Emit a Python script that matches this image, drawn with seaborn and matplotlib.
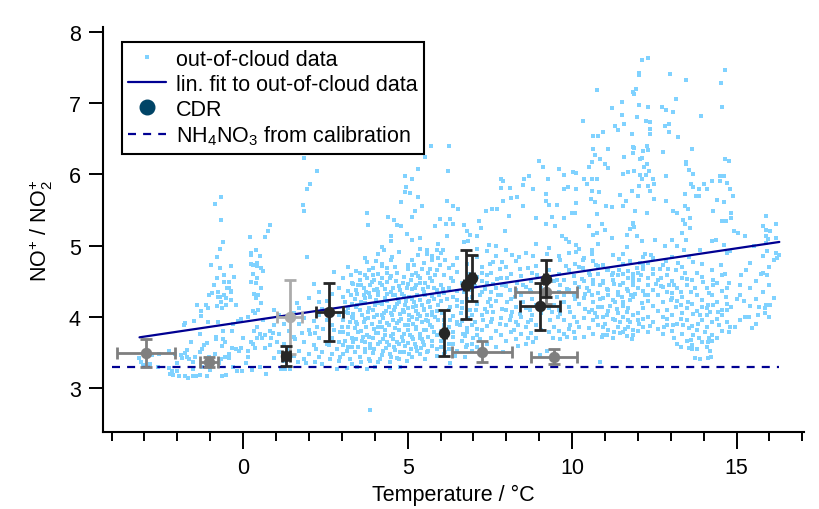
import matplotlib
matplotlib.use("Agg")
import matplotlib.pyplot as plt
from matplotlib.ticker import MultipleLocator
from matplotlib.lines import Line2D
import seaborn as sns
import pandas as pd

# ---------------- data ----------------
# out-of-cloud data, grouped by temperature range: (temperature, NO+/NO2+)
ooc_cold = [(-0.68,5.68),(-0.85,5.59),(-0.68,5.36),(0.81,5.29),(0.75,5.21),(0.21,5.12),(0.67,5.12),(0.39,4.94),(0.24,4.90),(0.24,4.86),(-0.79,4.84),(-0.97,4.73),(-0.37,4.71),(-0.70,4.68),(0.23,4.74),(0.31,4.72),(0.42,4.76),(0.42,4.71),(0.54,4.68),(0.60,4.64),(-0.58,4.59),(-0.28,4.56),(0.42,4.55),(-0.58,4.49),(-0.43,4.49),(0.24,4.49),(0.38,4.47),(-0.44,4.40),(-0.36,4.36),(-0.38,4.34),(-0.77,4.34),(-0.58,4.30),(-0.76,4.28),(-1.05,4.31),(-0.95,4.33),(0.32,4.32),(0.46,4.31),(0.38,4.26),(0.54,4.19),(-0.38,4.24),(-0.53,4.26),(-0.71,4.28),(-0.68,4.21),(-1.41,4.17),(-1.12,4.17),(-1.07,4.12),(-0.79,4.15),(-0.64,4.12),(-0.52,4.17),(-0.22,4.17),(-1.28,4.08),(-1.27,4.01),(0.30,4.08),(0.36,4.05),(-0.08,3.97),(-0.17,3.94),(-1.76,3.91),(-1.79,3.88),(-1.48,3.94),(-1.07,3.93),(-0.76,3.93),(0.43,3.86),(0.34,3.80),(0.52,3.75),(0.67,3.74),(0.81,3.80),(0.92,3.77),(1.04,3.65),(0.84,3.70),(0.57,3.70),(0.41,3.70),(0.23,3.65),(0.31,3.62),(0.36,3.56),(0.67,3.56),(0.82,3.60),(-0.34,3.80),(-0.62,3.80),(-0.82,3.72),(-0.82,3.68),(-0.60,3.69),(-0.55,3.64),(-0.63,3.59),(-1.10,3.63),(-1.20,3.60),(-1.25,3.55),(-1.30,3.51),(-1.70,3.53),(-1.76,3.49),(-1.88,3.46),(-1.71,3.44),(-1.66,3.40),(-1.52,3.36),(-1.45,3.43),(-2.06,3.48),(-2.26,3.52),(-2.57,3.48),(-2.77,3.46),(-3.17,3.42),(-3.12,3.36),(-3.05,3.32),(-2.82,3.33),(-2.59,3.29),(-2.26,3.28),(-2.16,3.23),(-2.21,3.20),(-2.13,3.18),(-2.01,3.23),(-1.94,3.17),(-1.76,3.16),(-1.68,3.14),(-1.52,3.16),(-1.43,3.17),(-1.30,3.18),(-1.10,3.16),(-0.65,3.16),(-0.51,3.18),(-0.19,3.23),(-0.04,3.24),(0.26,3.25),(0.71,3.20),(-0.34,3.56),(-0.22,3.55),(-0.06,3.56),(0.14,3.52),(0.16,3.44),(-0.14,3.52),(-0.42,3.48),(-0.55,3.43),(-0.44,3.42),(-0.67,3.40),(-0.73,3.35),(-1.03,3.43),(-0.85,3.48),(-1.51,3.27),(-1.25,3.30),(-1.86,3.42),(1.15,3.27),(1.27,3.27),(1.42,3.27),
            (-0.9,4.45),(-0.8,4.55),(-0.7,4.95),(-0.6,5.05),(-0.5,4.40),(0.3,4.60),(0.5,4.85),(0.55,4.40),(0.45,4.10),(0.15,4.00),(-0.3,3.90),(0.0,3.70),(0.6,3.95),(-1.3,3.75),(-1.6,3.65),(-2.0,3.35),(-1.0,3.25),(-0.3,3.30),(0.1,3.35),(0.5,3.30)]

ooc_mid = [(5.70,6.40),(6.25,6.40),(5.54,6.24),(1.85,6.23),(2.24,6.04),(5.31,6.08),(6.22,6.04),(4.92,5.98),(5.13,5.94),(2.04,5.87),(1.94,5.80),(4.95,5.82),(4.92,5.75),(5.08,5.74),(5.33,5.68),(6.21,5.63),(4.79,5.61),(5.43,5.56),(6.39,5.56),(6.54,5.51),(1.83,5.57),(1.85,5.48),(3.78,5.46),(5.21,5.48),(5.13,5.40),(5.99,5.37),(6.29,5.37),(4.40,5.40),(4.59,5.36),(3.79,5.29),(4.67,5.29),(4.80,5.27),(5.83,5.27),(6.17,5.30),(6.39,5.30),(4.98,5.16),(4.49,5.14),(6.19,5.13),(5.13,5.08),(5.38,5.10),(4.49,5.07),(5.93,5.02),(4.22,4.98),(4.29,4.93),(5.58,4.93),(5.89,4.94),(6.07,4.93),(4.52,4.84),(5.31,4.86),(5.58,4.88),(5.73,4.79),(5.91,4.82),(6.14,4.79),(1.94,4.84),(3.78,4.77),(4.04,4.78),(3.94,4.69),(4.22,4.71),(4.37,4.68),(4.69,4.62),(5.02,4.72),(5.18,4.73),(5.13,4.58),(5.43,4.67),(5.68,4.67),(5.99,4.72),(6.39,4.72),(6.49,4.63),(6.31,4.55),(3.28,4.59),(2.75,4.63),(3.56,4.52),(3.76,4.55),(3.96,4.58),(4.22,4.54),(4.47,4.55),(5.68,4.55),(5.83,4.58),(5.38,4.48),(5.53,4.47),(2.16,4.46),(3.35,4.46),(3.50,4.44),(3.66,4.40),(3.86,4.44),(4.06,4.39),(4.32,4.39),(4.57,4.40),(4.77,4.38),(4.97,4.40),(5.23,4.40),(5.48,4.39),(5.79,4.40),(6.09,4.39),(3.27,4.31),(3.45,4.32),(3.67,4.30),(3.86,4.27),(4.11,4.30),(4.37,4.32),(4.57,4.30),(4.82,4.32),(5.03,4.27),(5.28,4.30),(5.53,4.31),(5.79,4.25),(6.19,4.25),(6.49,4.23),(1.63,4.19),(2.32,4.20),(2.39,4.11),(3.10,4.20),(3.30,4.18),(3.45,4.16),(3.71,4.19),(4.01,4.16),(4.22,4.18),(4.42,4.13),(4.67,4.18),(4.92,4.16),(5.17,4.13),(5.43,4.17),(5.68,4.13),(5.93,4.17),(6.29,4.13),(3.13,4.07),(3.35,4.04),(3.61,4.02),(3.81,4.06),(4.08,4.03),(4.27,4.05),(4.52,4.02),(4.77,4.04),(5.03,4.02),(5.33,4.04),(5.58,4.02),(5.83,3.99),(3.05,3.95),(3.25,3.92),(3.45,3.90),(3.66,3.93),(3.91,3.90),(4.17,3.92),(4.42,3.88),(4.67,3.91),(4.92,3.88),(5.17,3.90),(5.43,3.92),(5.68,3.88),(5.93,3.95),(6.29,3.95),(6.49,3.92),(2.24,3.85),(2.44,3.83),(2.75,3.81),(1.78,3.77),(2.04,3.76),(2.19,3.77),(2.94,3.78),(3.20,3.76),(3.50,3.78),(3.76,3.74),(4.04,3.77),(4.32,3.74),(4.57,3.76),(4.82,3.71),(5.08,3.74),(5.38,3.76),(5.63,3.71),(1.58,3.69),(3.10,3.66),(3.35,3.64),(3.61,3.66),(3.86,3.62),(4.17,3.64),(4.42,3.60),(4.67,3.64),(4.92,3.59),(5.22,3.62),(5.48,3.64),(5.73,3.59),(6.39,3.71),(2.85,3.55),(3.15,3.52),(3.40,3.50),(3.71,3.54),(3.96,3.49),(4.24,3.52),(4.47,3.48),(4.77,3.51),(5.05,3.48),(5.28,3.52),(5.58,3.50),(2.64,3.41),(2.94,3.43),(3.25,3.40),(3.56,3.43),(3.86,3.38),(4.17,3.41),(4.45,3.37),(4.67,3.42),(4.97,3.38),(5.53,3.41),(2.19,3.37),(2.39,3.34),(2.85,3.27),(3.15,3.28),(3.45,3.30),(3.76,3.26),(4.01,3.29),(4.47,3.28),(4.77,3.29),(1.68,3.36),(1.91,3.35),(3.86,2.69),
           (3.55,4.62),(3.92,4.49),(4.15,4.47),(4.65,4.50),(4.85,4.47),(5.10,4.52),(5.33,4.57),(3.40,4.25),(3.75,4.35),(4.05,4.24),(4.30,4.26),(4.70,4.25),(4.95,4.22),(5.20,4.21),(5.65,4.22),(5.95,4.30),(3.20,4.12),(3.55,4.10),(3.95,4.10),(4.35,4.08),(4.60,4.09),(4.85,4.10),(5.25,4.08),(5.50,4.09),(5.75,4.06),(6.05,4.05),(3.35,3.98),(3.80,3.98),(4.25,3.98),(4.55,3.95),(4.80,3.97),(5.05,3.95),(5.30,3.97),(5.55,3.96),(6.10,3.88),(3.00,3.85),(3.40,3.84),(3.75,3.85),(4.10,3.85),(4.30,3.82),(4.75,3.82),(5.00,3.81),(5.25,3.83),(5.55,3.82),(5.80,3.78),(6.20,3.80),(3.30,3.70),(3.65,3.71),(3.95,3.70),(4.25,3.68),(4.55,3.69),(4.85,3.66),(5.15,3.68),(5.45,3.68),(6.00,3.66),(6.25,3.62),(3.05,3.60),(3.50,3.58),(3.85,3.56),(4.35,3.56),(4.60,3.57),(5.10,3.55),(5.40,3.56),(5.90,3.55),(6.15,3.50),(2.60,3.60),(2.40,3.50),(2.20,3.55),(6.45,3.45),(6.30,3.35)]

ooc_warm = [(10.65,6.54),(10.80,6.54),(10.65,6.36),(11.10,6.36),(11.86,6.38),(11.86,6.30),(10.70,6.27),(10.85,6.21),(10.60,6.17),(11.00,6.15),(11.59,6.25),(9.00,6.19),(9.11,6.10),(11.10,6.09),(10.52,6.11),(9.61,6.07),(9.75,5.99),(11.56,6.01),(11.71,6.03),(7.84,5.93),(7.91,5.91),(8.55,5.94),(8.70,5.98),(9.28,5.94),(10.04,6.03),(10.12,6.02),(10.37,5.94),(10.60,5.94),(10.75,5.94),(8.50,5.85),(8.82,5.79),(9.76,5.80),(9.89,5.82),(10.12,5.80),(10.45,5.86),(10.60,5.76),(10.82,5.75),(11.46,5.71),(7.84,5.81),(8.12,5.81),(8.15,5.67),(8.32,5.68),(9.21,5.72),(9.20,5.63),(9.31,5.57),(9.53,5.57),(10.12,5.60),(10.58,5.66),(10.70,5.61),(11.02,5.55),(11.20,5.54),(11.63,5.63),(11.56,5.56),(7.89,5.62),(7.73,5.51),(7.56,5.52),(7.38,5.49),(8.50,5.56),(8.91,5.38),(9.38,5.40),(9.75,5.38),(10.00,5.46),(10.08,5.46),(10.75,5.44),(8.08,5.41),(9.21,5.30),(9.48,5.27),(10.50,5.27),(10.90,5.30),(11.86,5.30),(11.76,5.23),(11.00,5.22),(7.16,5.34),(6.72,5.29),(7.22,5.25),(6.80,5.21),(6.90,5.15),(7.10,5.14),(7.96,5.20),(8.90,5.02),(9.68,5.14),(9.82,5.09),(10.65,5.15),(10.77,5.18),(11.21,5.10),(11.66,5.15),(7.48,5.01),(7.68,4.99),(6.70,5.05),(6.85,5.06),(7.12,4.95),(7.98,4.93),(8.16,4.86),(8.39,4.84),(8.80,4.85),(9.25,4.88),(10.12,5.01),(10.12,4.91),(9.91,4.90),(10.60,4.93),(10.60,4.88),(10.34,4.80),(10.73,4.73),(11.44,4.81),(11.56,4.88),(11.66,4.98),(7.51,4.74),(7.61,4.77),(7.86,4.77),(7.81,4.67),(7.26,4.62),(7.41,4.58),(7.71,4.53),(8.01,4.54),(8.42,4.67),(8.67,4.69),(8.78,4.62),(8.92,4.58),(9.64,4.79),(9.82,4.71),(10.09,4.74),(10.80,4.71),(10.34,4.68),(10.55,4.58),(11.05,4.65),(11.20,4.58),(11.44,4.65),(11.54,4.60),(11.71,4.55),(11.86,4.58),(7.05,4.43),(7.36,4.39),(7.61,4.46),(7.86,4.44),(8.12,4.37),(8.32,4.47),(8.52,4.44),(8.72,4.37),(9.53,4.51),(9.64,4.44),(9.84,4.39),(10.09,4.48),(10.29,4.53),(10.65,4.46),(10.85,4.44),(11.05,4.39),(11.26,4.46),(11.46,4.44),(11.66,4.39),(11.86,4.45),(7.20,4.30),(7.51,4.25),(7.76,4.30),(8.01,4.20),(8.27,4.27),(8.52,4.20),(8.77,4.25),(9.53,4.27),(9.74,4.30),(10.09,4.25),(10.40,4.32),(10.60,4.30),(10.85,4.25),(11.10,4.31),(11.31,4.20),(11.51,4.27),(11.76,4.23),(7.08,4.09),(7.36,4.11),(7.61,4.06),(7.86,4.11),(8.17,4.07),(8.42,4.04),(8.72,4.09),(9.38,4.07),(9.64,4.04),(9.94,4.07),(10.40,4.11),(10.60,4.09),(10.90,4.13),(11.05,4.03),(11.36,4.11),(11.66,4.06),(6.60,3.88),(6.80,3.84),(7.05,3.93),(7.30,3.95),(7.56,3.97),(7.81,3.90),(8.12,3.95),(8.37,3.88),(8.67,3.92),(8.77,4.02),(9.33,3.95),(9.58,3.99),(9.94,3.88),(10.14,3.93),(10.75,3.99),(11.00,3.90),(11.46,3.92),(11.61,3.83),(6.75,3.73),(7.10,3.83),(8.22,3.81),(9.43,3.70),(9.64,3.69),(9.84,3.71),(10.09,3.70),(10.90,3.71),(11.05,3.74),(11.26,3.78),(11.46,3.77),(11.66,3.73),(11.81,3.69),(8.37,3.59),(8.67,3.70),(8.82,3.64),(9.23,3.52),(6.78,3.57),(6.75,3.43),(7.91,3.51),(9.03,3.46),(10.84,3.36),
            (6.65,4.20),(6.70,4.35),(6.90,4.10),(6.95,4.28),(6.85,3.98),(7.00,3.70),(6.95,3.62),(7.20,3.68),(6.62,4.05),(6.68,3.75),(7.45,4.20),(7.25,4.50),(6.88,4.60),(10.95,4.50),(11.15,4.15),(11.40,4.35),(10.70,4.05),(10.95,3.85),(11.30,3.95),(11.70,3.95),(11.55,4.15),(11.25,4.62),(10.45,4.40),(11.80,4.30)]

ooc_hot = [(12.13,7.60),(12.30,7.63),(12.03,7.43),(12.04,7.40),(12.98,7.41),(13.45,7.32),(14.65,7.46),(14.53,7.28),(11.95,7.20),(11.88,7.13),(13.15,7.06),(12.03,6.98),(12.31,6.95),(12.72,6.95),(12.86,6.90),(13.06,6.88),(14.56,6.95),(13.92,6.82),(11.97,6.81),(12.24,6.75),(12.37,6.74),(12.83,6.68),(12.95,6.71),(12.95,6.60),(12.37,6.63),(12.37,6.56),(11.81,6.56),(13.22,6.53),(12.27,6.40),(11.87,6.37),(12.17,6.33),(12.30,6.34),(12.77,6.32),(13.64,6.36),(12.07,6.21),(12.12,6.23),(12.29,6.15),(12.18,6.10),(13.45,6.17),(13.45,6.14),(14.64,6.21),(14.76,6.19),(11.88,6.04),(12.07,5.99),(12.25,5.99),(12.35,6.04),(13.56,6.06),(13.69,6.01),(12.84,5.97),(12.14,5.94),(12.02,5.84),(12.30,5.84),(12.50,5.86),(12.45,5.93),(13.61,5.87),(13.69,5.82),(14.01,5.86),(14.25,5.91),(14.50,5.97),(14.62,5.97),(14.49,5.91),(14.70,5.88),(14.80,5.80),(13.86,5.80),(14.11,5.79),(11.81,5.76),(12.37,5.76),(13.43,5.73),(13.76,5.69),(13.85,5.69),(14.88,5.69),(12.00,5.69),(12.49,5.65),(12.86,5.62),(14.40,5.64),(14.62,5.61),(13.43,5.56),(13.53,5.51),(11.90,5.49),(12.27,5.45),(13.08,5.49),(13.20,5.45),(14.27,5.48),(14.82,5.46),(13.37,5.36),(13.43,5.30),(13.58,5.39),(14.55,5.35),(14.68,5.35),(14.82,5.39),(11.84,5.32),(11.88,5.26),(11.96,5.13),(15.89,5.42),(15.80,5.27),(15.89,5.22),(16.01,5.20),(15.91,5.14),(15.96,5.09),(15.89,5.04),(13.34,5.17),(13.57,5.25),(14.91,5.20),(15.03,5.18),(15.25,5.14),(12.13,5.07),(12.53,5.08),(13.04,5.08),(13.45,5.08),(14.24,5.06),(14.37,5.08),(14.63,5.01),(12.83,4.99),(13.19,5.00),(13.40,4.93),(13.89,4.93),(14.70,4.89),(14.80,4.92),(15.92,4.92),(15.54,4.99),(16.29,4.87),(16.14,4.80),(16.22,4.83),(12.22,4.88),(12.40,4.87),(12.15,4.84),(12.85,4.78),(13.22,4.76),(13.56,4.84),(13.69,4.77),(11.76,4.78),(12.07,4.76),(12.32,4.76),(14.52,4.73),(13.94,4.74),(12.93,4.67),(13.15,4.66),(13.43,4.62),(15.28,4.65),(11.96,4.69),(12.17,4.67),(12.45,4.67),(12.68,4.67),(11.86,4.60),(12.11,4.59),(12.71,4.55),(15.12,4.59),(15.74,4.60),(15.94,4.59),(14.64,4.60),(13.33,4.54),(13.48,4.53),(14.27,4.52),(14.27,4.45),(14.78,4.47),(13.99,4.49),(11.84,4.49),(12.02,4.51),(12.32,4.44),(12.54,4.46),(12.69,4.43),(12.94,4.45),(13.10,4.45),(13.74,4.41),(11.90,4.32),(12.22,4.31),(12.32,4.30),(13.03,4.33),(13.30,4.34),(13.61,4.35),(14.16,4.33),(12.12,4.19),(13.01,4.23),(13.15,4.13),(13.30,4.16),(13.53,4.21),(13.94,4.13),(14.14,4.17),(14.29,4.16),(14.67,4.27),(15.00,4.25),(15.22,4.22),(14.70,4.18),(14.82,4.13),(14.55,4.09),(14.45,4.07),(14.19,4.07),(13.67,4.04),(13.89,4.02),(14.09,4.03),(15.90,4.17),(16.02,4.17),(16.14,4.26),(15.87,4.12),(15.69,4.13),(15.85,4.05),(15.64,4.03),(15.37,3.99),(15.26,4.00),(14.48,3.88),(14.78,3.79),(14.81,3.85),(14.94,3.86),(15.46,3.84),(12.01,3.96),(12.17,3.97),(12.75,3.99),(12.90,3.97),(13.31,3.97),(11.76,3.92),(12.04,3.90),(12.37,3.87),(12.78,3.85),(13.06,3.89),(13.38,3.89),(13.84,3.90),(14.04,3.79),(14.24,3.74),(13.54,3.84),(13.69,3.74),(13.61,3.67),(13.85,3.70),(11.86,3.81),(13.10,3.70),(13.31,3.57),(13.54,3.56),(13.64,3.54),(14.12,3.64),(14.16,3.70),(14.19,3.52),(13.74,3.42),(13.89,3.40),(14.12,3.42),(14.21,3.44)]

ooc_top = [(10.75,7.18),(10.32,6.75),(11.20,6.93),(11.51,7.01),(11.53,6.83),(11.31,6.68),(11.59,6.71),(11.86,7.15),(10.95,6.60),(11.40,6.62)]

# extra points in the densely filled band, as columns: temperature -> ratios
dense_temp = [0.95, 1.1, 1.25, 1.4, 1.55, 1.7, 1.85, 2.0, 2.15, 2.3,
              2.55, 2.7, 2.9, 3.05, 3.18, 3.3, 3.42, 3.58, 3.7, 3.83, 3.97, 4.1, 4.23, 4.36, 4.5,
              4.62, 4.75, 4.88, 5.0, 5.12, 5.25, 5.38, 5.5, 5.62, 5.75, 5.88, 6.0, 6.12, 6.25, 6.38, 6.5,
              6.65, 6.8, 6.95, 7.1, 7.25, 7.4, 7.55, 7.7, 7.85, 8.0, 8.15, 8.3, 8.45, 8.6, 8.75, 8.9, 9.05, 9.3, 9.45,
              9.6, 9.75, 9.9, 10.05, 10.2, 10.35, 10.5, 10.65, 10.8, 10.95, 11.1, 11.25, 11.4, 11.55, 11.7, 11.85,
              12.0, 12.15, 12.3, 12.45, 12.6, 12.75, 12.9, 13.05, 13.2, 13.35, 13.5, 13.65, 13.8, 13.95, 14.1, 14.25, 14.4, 14.55, 14.7,
              15.1, 15.4, 15.6, 15.8, 16.0, 16.2]
dense_ratio = [[3.42, 3.88, 4.10], [3.50, 3.75, 4.02], [3.38, 3.62, 3.90], [3.55, 3.80], [3.45, 3.72, 4.05],
               [3.52, 3.90, 4.12], [3.40, 3.64, 3.98], [3.48, 3.82, 4.26], [3.60, 3.94], [3.44, 3.70, 4.02, 4.35],
               [3.62, 3.95, 4.22], [3.48, 3.70, 4.32, 3.88], [3.38, 3.64, 4.02, 4.41], [3.47, 3.79, 4.27, 4.55],
               [3.58, 3.85, 4.05, 4.36, 4.70], [3.33, 3.57, 4.00, 4.48], [3.69, 3.93, 4.14, 4.37, 4.64],
               [3.36, 3.80, 4.21, 4.44], [3.50, 3.64, 3.97, 4.26, 4.58, 4.83], [3.41, 3.72, 4.12, 4.33, 4.66],
               [3.55, 3.83, 4.00, 4.38, 4.52], [3.36, 3.61, 3.77, 4.19, 4.35, 4.60, 4.88], [3.46, 3.86, 4.03, 4.44, 4.74],
               [3.65, 3.91, 4.22, 4.49, 4.62], [3.44, 3.73, 4.05, 4.35, 4.57, 4.80], [3.53, 3.84, 4.14, 4.31, 4.70],
               [3.40, 3.61, 3.94, 4.21, 4.43, 4.91], [3.50, 3.76, 4.06, 4.29, 4.56], [3.63, 3.89, 4.12, 4.46, 4.67],
               [3.43, 3.72, 3.99, 4.25, 4.39, 4.80], [3.57, 3.86, 4.15, 4.45, 4.62], [3.47, 3.70, 4.01, 4.23, 4.54, 4.95],
               [3.60, 3.82, 4.11, 4.34, 4.76], [3.52, 3.94, 4.20, 4.42, 4.61], [3.66, 3.85, 4.03, 4.29, 4.50, 4.85],
               [3.45, 3.74, 4.08, 4.37, 4.66], [3.58, 3.80, 4.22, 4.45, 4.90], [3.48, 3.69, 3.95, 4.33, 4.58],
               [3.55, 3.86, 4.10, 4.40, 4.68], [3.62, 3.78, 4.01, 4.28, 4.50], [3.52, 3.90, 4.15, 4.36, 4.82],
               [3.66, 3.94, 4.12, 4.48], [3.60, 3.78, 4.25, 4.52, 4.74], [3.52, 3.88, 4.02, 4.38],
               [3.58, 3.74, 4.18, 4.56, 4.84], [3.82, 4.02, 4.34, 4.70], [3.62, 3.87, 4.07, 4.47, 4.92],
               [3.70, 3.92, 4.15, 4.35, 4.62], [3.58, 3.80, 4.22, 4.40, 4.85], [3.74, 3.98, 4.31, 4.55],
               [3.66, 3.88, 4.10, 4.43, 4.70], [3.79, 4.01, 4.25, 4.60], [3.68, 3.93, 4.13, 4.38, 4.78],
               [3.75, 3.99, 4.30, 4.57], [3.62, 3.85, 4.12, 4.42, 4.90], [3.77, 3.96, 4.34, 4.50],
               [3.70, 3.89, 4.17, 4.71], [3.82, 4.05, 4.40], [3.78, 4.12, 4.66, 4.97], [3.86, 4.16, 4.50],
               [3.80, 4.10, 4.35, 4.60, 4.85], [3.75, 3.96, 4.20, 4.52], [3.83, 4.14, 4.38, 4.65, 5.05],
               [3.78, 4.00, 4.30, 4.57], [3.86, 4.18, 4.42, 4.70, 4.95], [3.72, 3.98, 4.26, 4.50, 4.82],
               [3.84, 4.06, 4.36, 4.62], [3.76, 3.95, 4.20, 4.52, 4.78], [3.88, 4.13, 4.33, 4.60, 5.02],
               [3.74, 4.00, 4.26, 4.48, 4.72], [3.82, 4.08, 4.38, 4.66], [3.70, 3.97, 4.24, 4.52, 4.86],
               [3.85, 4.05, 4.30, 4.58], [3.78, 3.99, 4.20, 4.48, 4.74], [3.86, 4.12, 4.36, 4.64], [3.74, 4.02, 4.28, 4.54],
               [3.80, 4.05, 4.40, 4.62], [3.86, 4.12, 4.36, 4.72], [3.78, 4.00, 4.22, 4.55], [3.92, 4.15, 4.38, 4.60, 4.82],
               [3.83, 4.08, 4.30, 4.52], [3.76, 4.20, 4.42, 4.72], [3.88, 4.10, 4.34, 4.58], [3.80, 4.02, 4.26, 4.50, 4.84],
               [3.62, 3.90, 4.22, 4.40], [3.75, 4.05, 4.28, 4.70], [3.66, 3.95, 4.12, 4.45], [3.60, 3.87, 4.18, 4.52],
               [3.55, 3.82, 4.08, 4.30, 4.62], [3.65, 3.95, 4.24, 4.56], [3.58, 3.86, 4.12, 4.40], [3.66, 3.92, 4.30, 4.66],
               [3.70, 3.97, 4.20, 4.48], [3.80, 4.02, 4.36, 4.58], [3.92, 4.10, 4.40],
               [3.95, 4.30, 4.45], [4.15, 4.40, 4.75], [3.90, 4.25, 4.50], [4.35, 4.62, 4.85], [4.00, 4.45, 4.70], [4.90, 5.10, 5.30]]

# linear fit to out-of-cloud data (end points of the drawn line)
fit_temp = [-3.15, 16.3]
fit_ratio = [3.71, 5.05]

# NH4NO3 calibration level
calib_temp = [-4.0, 16.3]
calib_ratio = [3.30, 3.30]

# CDR points: temperature, ratio, x-error, y-error, shade
cdr_temp  = [-2.95, -1.03, 7.25, 9.45, 9.21, 1.41, 1.31, 2.62, 6.12, 6.78, 6.95, 9.20, 9.03]
cdr_ratio = [3.49, 3.37, 3.51, 3.44, 4.34, 3.99, 3.45, 4.07, 3.77, 4.45, 4.54, 4.53, 4.15]
cdr_xerr  = [0.88, 0.28, 0.91, 0.70, 0.95, 0.38, 0.12, 0.42, 0.05, 0.06, 0.06, 0.05, 0.61]
cdr_yerr  = [0.19, 0.07, 0.15, 0.10, 0.16, 0.52, 0.14, 0.41, 0.32, 0.48, 0.32, 0.26, 0.33]
cdr_shade = ["mid", "mid", "mid", "mid", "mid", "light", "dark", "dark", "dark", "dark", "dark", "dark", "dark"]

# ---------------- styling ----------------
sns.set_theme(style="ticks")
plt.rcParams["font.family"] = ["Liberation Sans", "DejaVu Sans"]
plt.rcParams["mathtext.fontset"] = "custom"
plt.rcParams["mathtext.rm"] = "Liberation Sans"
plt.rcParams["mathtext.it"] = "Liberation Sans:italic"
plt.rcParams["mathtext.bf"] = "Liberation Sans:bold"
for key in ("text.color", "axes.labelcolor", "xtick.color", "ytick.color", "axes.edgecolor"):
    plt.rcParams[key] = "black"

FS = 15.5
C_SCAT = "#80D2FF"
C_FIT = "#000092"
C_CDR_LEG = "#004466"
DASH = (0, (3.6, 3.2))
shade_colors = {"dark": "#262626", "mid": "#7F7F7F", "light": "#ABABAB"}

fig = plt.figure(figsize=(8.19, 5.10), dpi=100)
ax = fig.add_axes([103 / 819, 1 - 433 / 510, 701 / 819, 405 / 510])

pts = ooc_cold + ooc_mid + ooc_warm + ooc_hot + ooc_top
for t, rs in zip(dense_temp, dense_ratio):
    pts += [(t, r) for r in rs]
ooc = pd.DataFrame(pts, columns=["temp", "ratio"])
sns.scatterplot(data=ooc, x="temp", y="ratio", marker="s", s=10, color=C_SCAT,
                linewidth=0, ax=ax, zorder=2, legend=False)

fit_df = pd.DataFrame({"temp": fit_temp, "ratio": fit_ratio})
sns.lineplot(data=fit_df, x="temp", y="ratio", color=C_FIT, linewidth=1.6, ax=ax, zorder=3)

cal_df = pd.DataFrame({"temp": calib_temp, "ratio": calib_ratio})
sns.lineplot(data=cal_df, x="temp", y="ratio", color=C_FIT, linewidth=1.6,
             linestyle=DASH, ax=ax, zorder=3)

order = ["mid", "light", "dark"]
for shade in order:
    for t, r, xe, ye, s in zip(cdr_temp, cdr_ratio, cdr_xerr, cdr_yerr, cdr_shade):
        if s != shade:
            continue
        c = shade_colors[s]
        ax.errorbar(t, r, xerr=xe, yerr=ye, fmt="o", color=c, ecolor=c,
                    markersize=7.2, elinewidth=2.0, capsize=4.5, capthick=2.0,
                    zorder=4 + order.index(s))

ax.set_xlim(-4.26, 17.05)
ax.set_ylim(2.38, 8.07)
ax.set_xticks([0, 5, 10, 15])
ax.xaxis.set_minor_locator(MultipleLocator(1))
ax.set_yticks([3, 4, 5, 6, 7, 8])
ax.tick_params(axis="both", which="major", direction="out", length=10, width=1.4,
               labelsize=FS, colors="black")
ax.tick_params(axis="x", which="major", length=12, pad=6)
ax.tick_params(axis="x", which="minor", direction="out", length=6.5, width=1.4)
ax.tick_params(axis="y", which="major", pad=6)
sns.despine(ax=ax)
for sp in ("left", "bottom"):
    ax.spines[sp].set_linewidth(1.5)
    ax.spines[sp].set_color("black")

ax.set_xlabel("Temperature / °C", fontsize=FS, labelpad=4, color="black")
ax.set_ylabel(r"NO$^{+}$ / NO$_{2}^{+}$", fontsize=FS, labelpad=10, color="black")

handles = [
    Line2D([], [], linestyle="none", marker="s", markersize=3, color=C_SCAT, markeredgewidth=0),
    Line2D([], [], color=C_FIT, linewidth=1.6),
    Line2D([], [], linestyle="none", marker="o", markersize=10.5, color=C_CDR_LEG),
    Line2D([], [], color=C_FIT, linewidth=1.6, linestyle=DASH),
]
labels = ["out-of-cloud data", "lin. fit to out-of-cloud data", "CDR",
          r"NH$_4$NO$_3$ from calibration"]
leg = ax.legend(handles, labels, loc="upper left", bbox_to_anchor=(0.027, 0.962),
                borderaxespad=0, fontsize=FS, frameon=True, fancybox=False,
                framealpha=1, edgecolor="black", handlelength=1.75,
                handletextpad=0.45, labelspacing=0.18, borderpad=0.3)
leg.get_frame().set_linewidth(1.5)
leg.set_zorder(10)
for txt in leg.get_texts():
    txt.set_color("black")

fig.savefig("out.png", dpi=100)
